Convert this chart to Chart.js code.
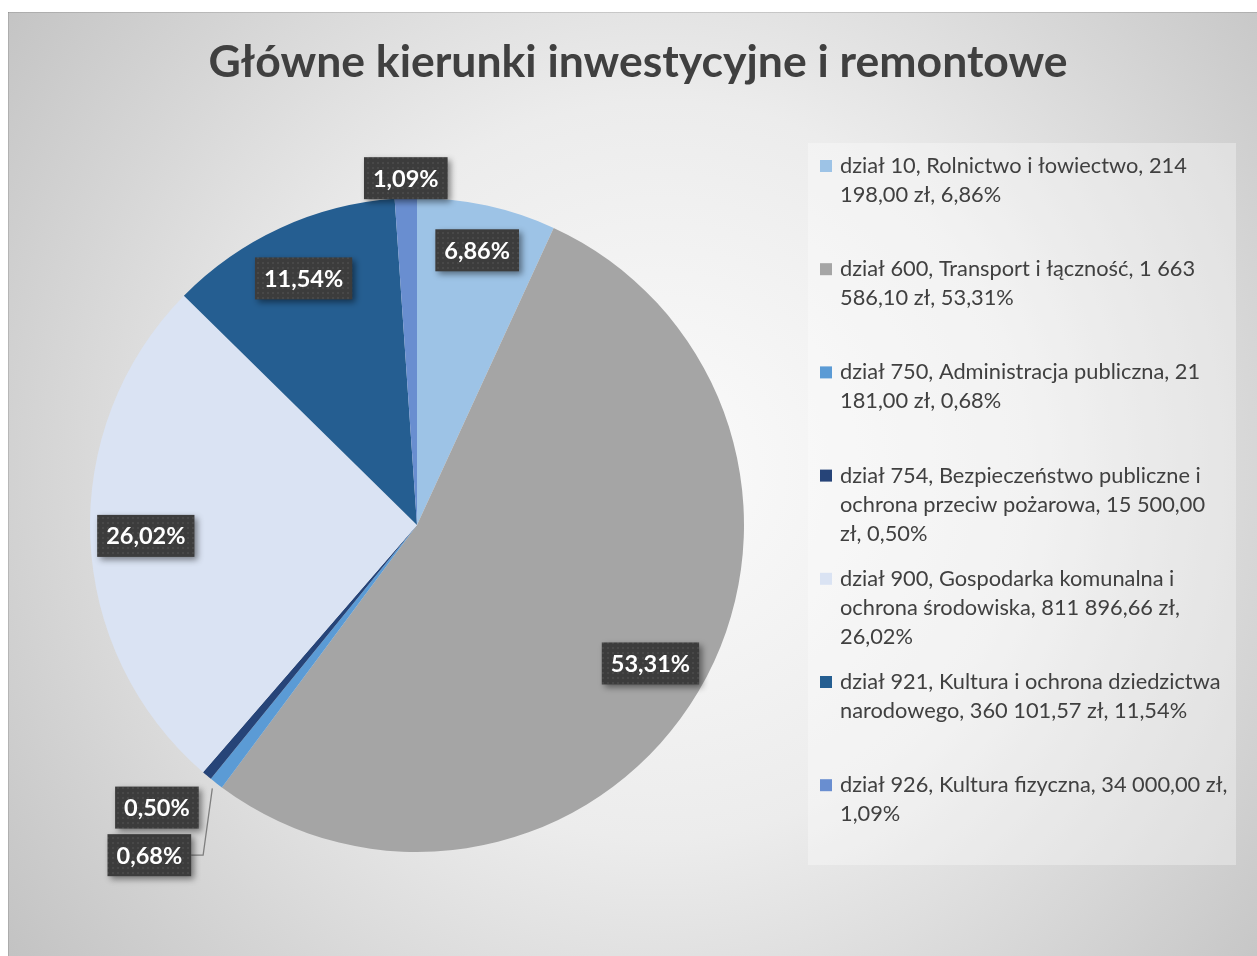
<!DOCTYPE html>
<html><head><meta charset="utf-8">
<script src="https://cdn.jsdelivr.net/npm/chart.js@4.4.0/dist/chart.umd.min.js"></script>
<style>html,body{margin:0;padding:0;background:#fff;overflow:hidden}#wrap{position:absolute;left:0;top:0;width:1257px;height:956px}</style>
</head><body><div id="wrap"><canvas id="c" width="1257" height="956"></canvas></div>
<script>
const titleText = 'Główne kierunki inwestycyjne i remontowe';
const categories = ['dział 10', 'dział 600', 'dział 750', 'dział 754', 'dział 900', 'dział 921', 'dział 926'];
const amounts = [214198.00, 1663586.10, 21181.00, 15500.00, 811896.66, 360101.57, 34000.00];
const legendLines = [
  ['dział 10, Rolnictwo i łowiectwo, 214', '198,00 zł, 6,86%'],
  ['dział 600, Transport i łączność, 1 663', '586,10 zł, 53,31%'],
  ['dział 750, Administracja publiczna, 21', '181,00 zł, 0,68%'],
  ['dział 754, Bezpieczeństwo publiczne i', 'ochrona przeciw pożarowa, 15 500,00', 'zł, 0,50%'],
  ['dział 900, Gospodarka komunalna i', 'ochrona środowiska, 811 896,66 zł,', '26,02%'],
  ['dział 921, Kultura i ochrona dziedzictwa', 'narodowego, 360 101,57 zł, 11,54%'],
  ['dział 926, Kultura fizyczna, 34 000,00 zł,', '1,09%']
];
const colors = ['#9DC3E6', '#A5A5A5', '#5B9BD5', '#264478', '#DAE3F3', '#255E91', '#698ED0'];

// label placement: inside at radius fraction, or outside with offset from arc edge
const labelPlace = [
  {f: 0.86}, {f: 0.83}, {f: 1.0, dx: -67, dy: 72, leader: true}, {f: 1.0, dx: -50, dy: 32},
  {f: 0.83}, {f: 0.83}, {f: 1.0, dx: 0, dy: -20}
];

function makePattern(ctx) {
  const p = document.createElement('canvas');
  p.width = 5; p.height = 5;
  const g = p.getContext('2d');
  g.fillStyle = '#3c3c3c'; g.fillRect(0, 0, 5, 5);
  g.fillStyle = '#484848'; g.fillRect(2, 2, 2, 2);
  return ctx.createPattern(p, 'repeat');
}

const decor = {
  id: 'decor',
  beforeDraw(chart) {
    const ctx = chart.ctx;
    ctx.save();
    ctx.fillStyle = '#ffffff';
    ctx.fillRect(0, 0, chart.width, chart.height);
    const g = ctx.createRadialGradient(660, 470, 0, 660, 470, 820);
    g.addColorStop(0, '#fbfbfb');
    g.addColorStop(0.45, '#ececec');
    g.addColorStop(1, '#c2c2c2');
    ctx.fillStyle = g;
    ctx.fillRect(8, 12, chart.width - 8, chart.height - 12);
    ctx.fillStyle = 'rgba(0,0,0,0.12)';
    ctx.fillRect(8, 12, chart.width - 8, 1);
    ctx.fillRect(8, 12, 1, chart.height - 12);
    // legend panel
    ctx.fillStyle = 'rgba(255,255,255,0.32)';
    ctx.fillRect(808, 143, 428, 722);
    ctx.restore();
  },
  afterDraw(chart) {
    const ctx = chart.ctx;
    ctx.save();
    // title
    ctx.fillStyle = '#404040';
    ctx.font = 'bold 44.5px Lato';
    ctx.textAlign = 'center';
    ctx.textBaseline = 'middle';
    ctx.fillText(titleText, 638, 63);
    // legend
    ctx.textAlign = 'left';
    ctx.font = '21.8px Lato';
    legendLines.forEach((lines, i) => {
      const top = 166 + i * 103.2;
      ctx.fillStyle = colors[i];
      ctx.fillRect(820, top - 6, 12, 12);
      ctx.fillStyle = '#404040';
      lines.forEach((ln, k) => ctx.fillText(ln, 840, top + k * 29));
    });
    // data labels
    const meta = chart.getDatasetMeta(0);
    const total = amounts.reduce((a, b) => a + b, 0);
    const pat = makePattern(ctx);
    ctx.font = 'bold 23.5px Lato';
    ctx.textAlign = 'center';
    meta.data.forEach((arc, i) => {
      const pl = labelPlace[i];
      const mid = (arc.startAngle + arc.endAngle) / 2;
      const ex = arc.x + Math.cos(mid) * arc.outerRadius * pl.f;
      const ey = arc.y + Math.sin(mid) * arc.outerRadius * pl.f;
      const cx = ex + (pl.dx || 0), cy = ey + (pl.dy || 0);
      const txt = (amounts[i] / total * 100).toFixed(2).replace('.', ',') + '%';
      const w = ctx.measureText(txt).width + 18, h = 42;
      if (pl.leader) {
        ctx.strokeStyle = '#7f7f7f';
        ctx.lineWidth = 1.3;
        ctx.beginPath();
        const sx = arc.x + Math.cos(mid) * arc.outerRadius * 1.02;
        const sy = arc.y + Math.sin(mid) * arc.outerRadius * 1.02;
        ctx.moveTo(sx, sy);
        ctx.lineTo(cx + w / 2 + 12, cy);
        ctx.lineTo(cx + w / 2, cy);
        ctx.stroke();
      }
      ctx.save();
      ctx.shadowColor = 'rgba(0,0,0,0.45)';
      ctx.shadowBlur = 6;
      ctx.shadowOffsetX = 3;
      ctx.shadowOffsetY = 3;
      ctx.fillStyle = pat;
      ctx.fillRect(cx - w / 2, cy - h / 2, w, h);
      ctx.restore();
      ctx.fillStyle = '#ffffff';
      ctx.fillText(txt, cx, cy + 1);
    });
    ctx.restore();
  }
};

new Chart(document.getElementById('c'), {
  type: 'pie',
  data: {
    labels: categories,
    datasets: [{ data: amounts, backgroundColor: colors, borderWidth: 0 }]
  },
  options: {
    responsive: false,
    devicePixelRatio: 1,
    animation: false,
    layout: { padding: { left: 90, right: 513, top: 198, bottom: 104 } },
    plugins: { legend: { display: false }, tooltip: { enabled: false }, title: { display: false } }
  },
  plugins: [decor]
});
</script>
</body></html>
